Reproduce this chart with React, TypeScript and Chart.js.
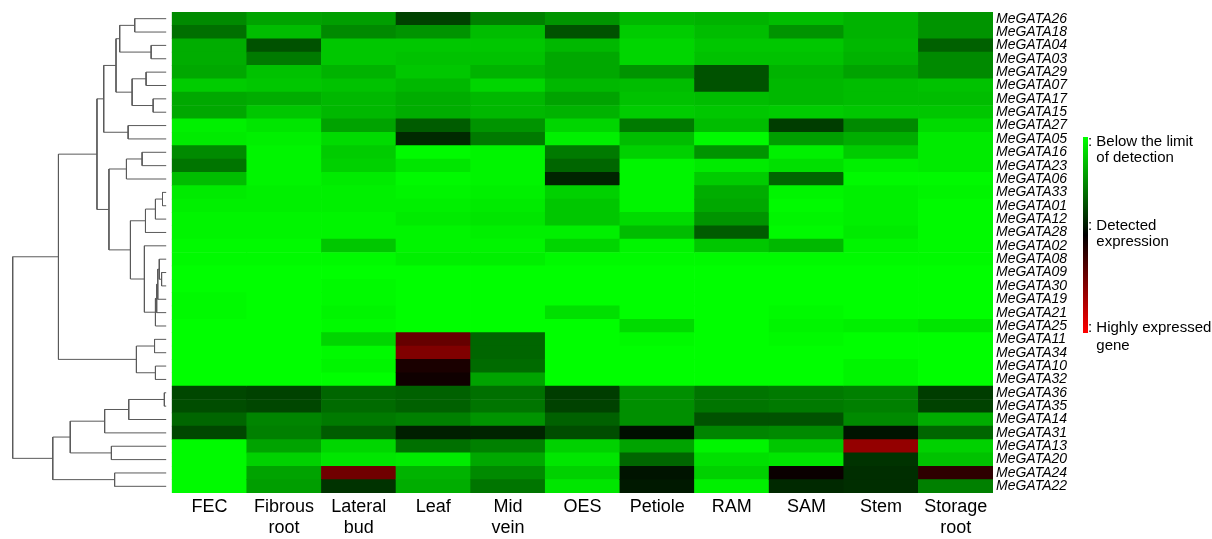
import React, { useEffect, useRef } from "react";
import { Chart, registerables } from "chart.js";

Chart.register(...registerables);

// ---------- data ----------
const GENES = [
  "MeGATA26", "MeGATA18", "MeGATA04", "MeGATA03", "MeGATA29", "MeGATA07",
  "MeGATA17", "MeGATA15", "MeGATA27", "MeGATA05", "MeGATA16", "MeGATA23",
  "MeGATA06", "MeGATA33", "MeGATA01", "MeGATA12", "MeGATA28", "MeGATA02",
  "MeGATA08", "MeGATA09", "MeGATA30", "MeGATA19", "MeGATA21", "MeGATA25",
  "MeGATA11", "MeGATA34", "MeGATA10", "MeGATA32", "MeGATA36", "MeGATA35",
  "MeGATA14", "MeGATA31", "MeGATA13", "MeGATA20", "MeGATA24", "MeGATA22",
];

const TISSUES = [
  ["FEC"], ["Fibrous", "root"], ["Lateral", "bud"], ["Leaf"], ["Mid", "vein"],
  ["OES"], ["Petiole"], ["RAM"], ["SAM"], ["Stem"], ["Storage", "root"],
];

// expression score: 0 = below detection (green), 50 = detected (black), 100 = highly expressed (red)
const FEC = [23, 28, 16, 16, 17, 10, 17, 17, 3, 4, 23, 27, 13, 4, 3, 2, 2, 1, 1, 0, 0, 1, 1, 0, 0, 0, 0, 0, 36, 35, 30, 36, 1, 1, 1, 1];
const FIBROUS_ROOT = [18, 13, 34, 26, 12, 11, 16, 11, 5, 3, 2, 2, 2, 3, 3, 2, 2, 1, 1, 0, 0, 0, 0, 0, 0, 0, 0, 0, 37, 36, 24, 25, 18, 9, 18, 19];
const LATERAL_BUD = [19, 23, 11, 11, 15, 12, 14, 14, 18, 7, 10, 9, 4, 3, 3, 2, 2, 11, 1, 0, 1, 1, 2, 1, 8, 1, 2, 0, 30, 29, 26, 32, 8, 5, 72, 40];
const LEAF = [37, 21, 11, 12, 11, 14, 16, 16, 32, 42, 1, 5, 1, 2, 3, 4, 2, 2, 3, 0, 0, 0, 0, 0, 70, 75, 55, 53, 31, 31, 25, 44, 28, 4, 15, 16];
const MID_VEIN = [25, 13, 11, 12, 15, 8, 14, 14, 21, 26, 2, 2, 2, 3, 4, 5, 3, 2, 3, 0, 0, 0, 0, 0, 30, 30, 29, 18, 28, 27, 21, 43, 25, 17, 23, 27];
const OES = [21, 34, 14, 17, 17, 14, 18, 15, 8, 3, 26, 30, 43, 9, 11, 11, 3, 8, 1, 0, 0, 0, 6, 0, 0, 0, 0, 0, 38, 37, 31, 35, 9, 5, 9, 5];
const PETIOLE = [14, 10, 8, 8, 21, 13, 12, 10, 26, 13, 9, 2, 2, 2, 2, 7, 13, 2, 1, 0, 0, 0, 0, 7, 1, 0, 0, 0, 22, 22, 22, 47, 18, 30, 46, 45];
const RAM = [15, 13, 11, 12, 34, 34, 13, 11, 13, 1, 21, 4, 10, 16, 17, 21, 32, 11, 1, 0, 0, 0, 0, 0, 0, 0, 0, 0, 27, 27, 34, 24, 2, 6, 9, 3];
const SAM = [13, 21, 11, 12, 15, 14, 14, 10, 38, 19, 3, 6, 30, 2, 1, 2, 1, 14, 1, 0, 0, 0, 1, 2, 1, 0, 0, 0, 26, 26, 34, 23, 11, 5, 52, 42];
const STEM = [15, 15, 14, 15, 18, 13, 13, 11, 23, 16, 10, 3, 1, 3, 3, 3, 4, 2, 1, 0, 0, 0, 0, 3, 0, 0, 2, 2, 25, 25, 23, 46, 79, 40, 41, 41];
const STORAGE_ROOT = [21, 21, 31, 23, 23, 12, 13, 11, 7, 4, 4, 4, 1, 2, 1, 1, 1, 1, 1, 0, 0, 0, 0, 5, 0, 0, 0, 0, 38, 37, 16, 30, 9, 12, 59, 25];

const COLUMNS = [FEC, FIBROUS_ROOT, LATERAL_BUD, LEAF, MID_VEIN, OES, PETIOLE, RAM, SAM, STEM, STORAGE_ROOT];

// hierarchical clustering merges (hclust style): negative = gene row (1-based), positive = earlier merge; third = height
const DENDRO_MERGES: [number, number, number][] = [
  [-1, -2, 2.05], [-3, -4, 0.98], [1, 2, 3.03], [-5, -6, 1.31], [-7, -8, 0.85],
  [4, 5, 2.22], [3, 6, 3.27], [-9, -10, 2.48], [7, 8, 4.07], [-11, -12, 1.57],
  [10, -13, 2.59], [-14, -15, 0.24], [12, -16, 0.7], [13, -17, 1.35], [-20, -21, 0.3],
  [-19, 15, 0.45], [16, -22, 0.55], [17, -23, 0.62], [18, -24, 0.7], [-18, 19, 1.42],
  [14, 20, 2.33], [11, 21, 3.73], [9, 22, 4.51], [-25, -26, 0.76], [-27, -28, 0.7],
  [24, 25, 1.94], [23, 26, 7.02], [-29, -30, 0.12], [28, -31, 2.44], [29, -32, 4.01],
  [-33, -34, 3.57], [30, 31, 6.25], [-35, -36, 3.36], [32, 33, 7.39], [27, 34, 10],
];

const KEY_LABELS = [
  [": Below the limit", "of detection"],
  [": Detected", "expression"],
  [": Highly expressed", "gene"],
];

// ---------- styling ----------
const FONT = '"Liberation Sans", Arial, Helvetica, sans-serif';
const X_MIN = -2.2;
const LEAF_GAP = 0.08;
const HEIGHT_SCALE = 0.2057;

function colorFor(v: number): string {
  if (v <= 50) {
    const g = Math.round(255 * (1 - v / 50));
    return `rgb(0,${g},0)`;
  }
  const r = Math.round((255 * (v - 50)) / 50);
  return `rgb(${r},0,0)`;
}

function buildCells() {
  const cells: { x: number; y: [number, number]; v: number }[] = [];
  COLUMNS.forEach((col, c) => {
    col.forEach((v, r) => {
      cells.push({ x: c + 0.5, y: [r, r + 1], v });
    });
  });
  return cells;
}

function buildDendrogram() {
  const nodes: { x: number; y: number }[] = [];
  const pos = (id: number) =>
    id < 0 ? { x: -LEAF_GAP, y: -id - 1 + 0.5 } : nodes[id - 1];
  const sets: any[] = [];
  DENDRO_MERGES.forEach(([a, b, h]) => {
    const A = pos(a);
    const B = pos(b);
    const x = -(LEAF_GAP + h * HEIGHT_SCALE);
    nodes.push({ x, y: (A.y + B.y) / 2 });
    sets.push({
      type: "line",
      data: [
        { x: A.x, y: A.y },
        { x, y: A.y },
        { x, y: B.y },
        { x: B.x, y: B.y },
      ],
      borderColor: "#5a5a5a",
      borderWidth: 1,
      pointRadius: 0,
      pointHoverRadius: 0,
      fill: false,
      tension: 0,
    });
  });
  return sets;
}

const colorKeyPlugin = {
  id: "colorKey",
  afterDraw(chart: any) {
    const { ctx, chartArea } = chart;
    const barX = chartArea.right + 90;
    const barW = 5;
    const top = 137;
    const bottom = 333;
    ctx.save();
    const grad = ctx.createLinearGradient(0, top, 0, bottom);
    grad.addColorStop(0, colorFor(0));
    grad.addColorStop(0.5, colorFor(50));
    grad.addColorStop(1, colorFor(100));
    ctx.fillStyle = grad;
    ctx.fillRect(barX, top, barW, bottom - top);

    ctx.font = `15px ${FONT}`;
    ctx.fillStyle = "#000";
    ctx.textBaseline = "middle";
    ctx.textAlign = "left";
    const tx = barX + barW;
    const indent = ctx.measureText(": ").width;
    const ys = [
      [top + 5, top + 21],
      [(top + bottom) / 2 - 9, (top + bottom) / 2 + 7],
      [bottom - 5, bottom + 13],
    ];
    KEY_LABELS.forEach((lines, i) => {
      ctx.fillText(lines[0], tx, ys[i][0]);
      ctx.fillText(lines[1], tx + indent, ys[i][1]);
    });
    ctx.restore();
  },
};

export default function App() {
  const ref = useRef<HTMLCanvasElement>(null);

  useEffect(() => {
    if (!ref.current) return;
    const heat = {
      type: "bar",
      data: buildCells(),
      backgroundColor: (c: any) => colorFor(c.raw ? c.raw.v : 0),
      borderWidth: 0,
      barPercentage: 1,
      categoryPercentage: 1,
      grouped: false,
    };
    const chart = new Chart(ref.current, {
      type: "bar",
      data: { datasets: [heat, ...buildDendrogram()] as any },
      options: {
        responsive: false,
        animation: false,
        events: [],
        layout: { padding: { left: 8, top: 12, right: 0, bottom: 0 } },
        plugins: { legend: { display: false }, tooltip: { enabled: false } },
        scales: {
          x: {
            type: "linear",
            min: X_MIN,
            max: TISSUES.length,
            bounds: "data",
            offset: false,
            grid: { display: false, drawTicks: false, offset: false },
            border: { display: false },
            afterBuildTicks: (s: any) => {
              s.ticks = TISSUES.map((_, i) => ({ value: i + 0.5 }));
            },
            afterFit: (s: any) => {
              s.height = 46;
              s.paddingLeft = 0;
              s.paddingRight = 0;
            },
            ticks: {
              autoSkip: false,
              maxRotation: 0,
              minRotation: 0,
              padding: 3,
              color: "#000",
              font: { family: FONT, size: 18, lineHeight: 1.2 },
              callback: (_v: any, i: number) => TISSUES[i],
            },
          } as any,
          y: {
            type: "linear",
            min: 0,
            max: GENES.length,
            reverse: true,
            position: "right",
            bounds: "data",
            grid: { display: false, drawTicks: false },
            border: { display: false },
            afterBuildTicks: (s: any) => {
              s.ticks = GENES.map((_, i) => ({ value: i + 0.5 }));
            },
            afterFit: (s: any) => {
              s.width = 219;
              s.paddingTop = 0;
              s.paddingBottom = 0;
            },
            ticks: {
              autoSkip: false,
              padding: 3,
              color: "#000",
              font: { family: FONT, size: 14, style: "italic" },
              callback: (_v: any, i: number) => GENES[i],
            },
          } as any,
        },
      } as any,
      plugins: [colorKeyPlugin],
    });
    return () => chart.destroy();
  }, []);

  return (
    <div style={{ position: "fixed", left: 0, top: 0, width: 1212, height: 539, background: "#fff" }}>
      <canvas ref={ref} width={1212} height={539} style={{ display: "block", width: 1212, height: 539 }} />
    </div>
  );
}
